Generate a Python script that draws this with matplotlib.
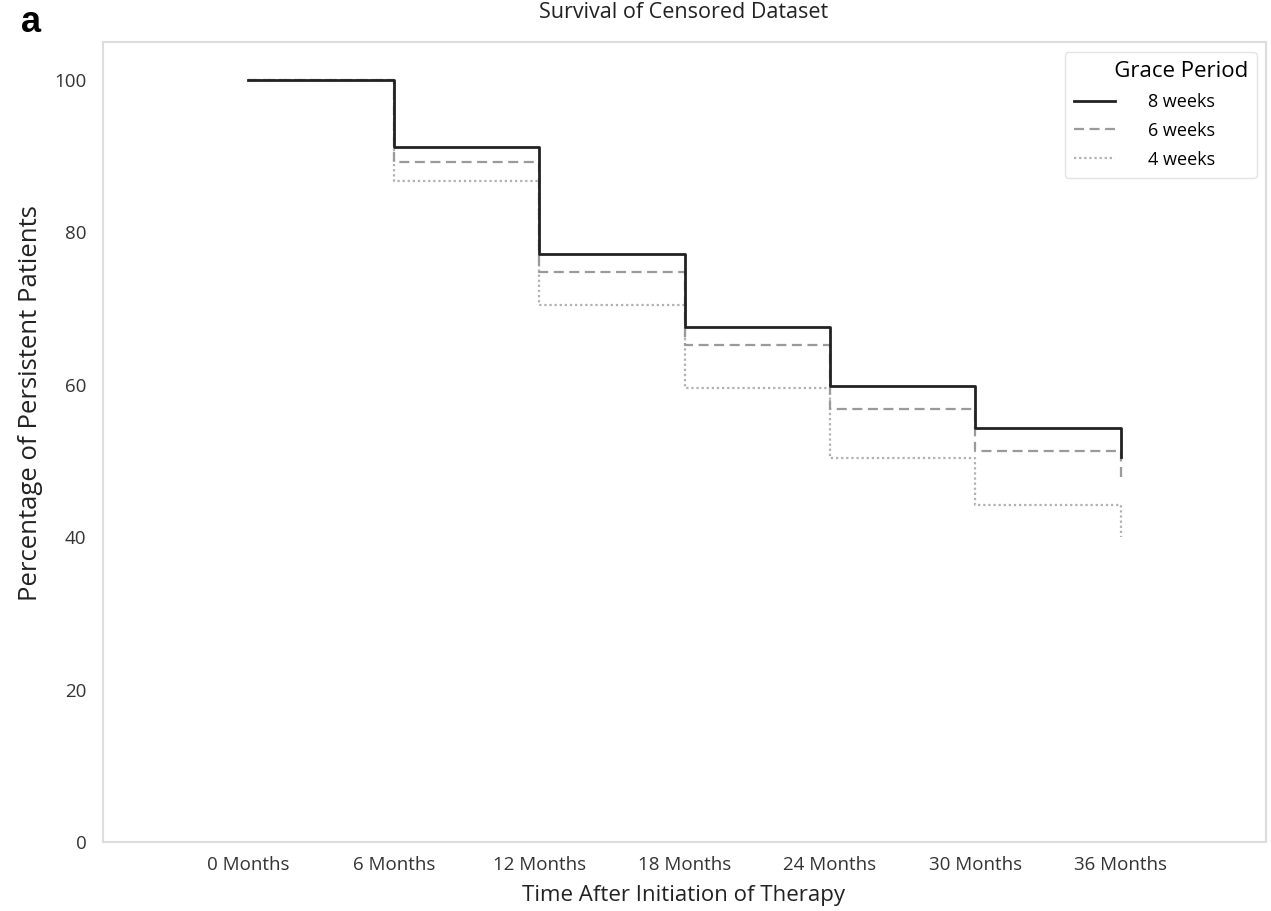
import matplotlib.pyplot as plt

plt.rcParams['font.family'] = ['Open Sans', 'DejaVu Sans']

# 데이터
months = [0, 6, 12, 18, 24, 30, 36]
month_labels = ['0 Months', '6 Months', '12 Months', '18 Months',
                '24 Months', '30 Months', '36 Months']
weeks8 = [100, 91.2, 77.2, 67.6, 59.8, 54.3, 50.5]
weeks6 = [100, 89.3, 74.8, 65.2, 56.8, 51.3, 47.3]
weeks4 = [100, 86.7, 70.5, 59.6, 50.4, 44.2, 40.0]

W, H = 1271, 911
fig = plt.figure(figsize=(W / 100, H / 100), dpi=100)
ax = fig.add_axes([103 / W, 1 - 842 / H, 1163 / W, 800 / H])

ax.step(months, weeks4, where='post', color='#b0b0b0', linestyle=(0, (1, 1.3)),
        linewidth=1.6, label='4 weeks', zorder=3)
ax.step(months, weeks6, where='post', color='#9a9a9a', linestyle=(0, (4.5, 2.5)),
        linewidth=1.6, label='6 weeks', zorder=4)
ax.step(months, weeks8, where='post', color='#222222', linestyle='-',
        linewidth=2.0, label='8 weeks', zorder=5)

ax.set_xlim(-6, 42)
ax.set_ylim(0, 105)
ax.set_xticks(months)
ax.set_xticklabels(month_labels)
ax.set_yticks([0, 20, 40, 60, 80, 100])
ax.tick_params(length=0, labelsize=13.5, labelcolor='#333333')
ax.tick_params(axis='x', pad=10)
ax.tick_params(axis='y', pad=12)

for s in ax.spines.values():
    s.set_color('#dddddd')
    s.set_linewidth(1.5)

# 제목과 축 이름
fig.text(684 / W, 1 - 13 / H, 'Survival of Censored Dataset', fontsize=15.5,
         color='#222222', ha='center', va='center')
fig.text(684 / W, 1 - 895 / H, 'Time After Initiation of Therapy', fontsize=16,
         color='#222222', ha='center', va='center')
fig.text(31 / W, 1 - 403 / H, 'Percentage of Persistent Patients', fontsize=18.5,
         color='#222222', ha='center', va='center', rotation=90)

handles, labels = ax.get_legend_handles_labels()
leg = ax.legend(handles[::-1], labels[::-1], title='       Grace Period',
                loc='upper right', alignment='left',
                fontsize=13, title_fontsize=16, frameon=True, fancybox=True,
                edgecolor='#dddddd', handlelength=2.3, borderpad=0.5,
                labelspacing=0.6, handletextpad=1.8, borderaxespad=0,
                bbox_to_anchor=((1257 - 103) / 1163, (842 - 52) / 800))
leg.get_frame().set_linewidth(1.0)

fig.text(31 / W, 1 - 23 / H, 'a', fontsize=26, fontweight='bold',
         family='Liberation Sans', ha='center', va='center')

plt.savefig('out.png', dpi=100)
plt.close()
